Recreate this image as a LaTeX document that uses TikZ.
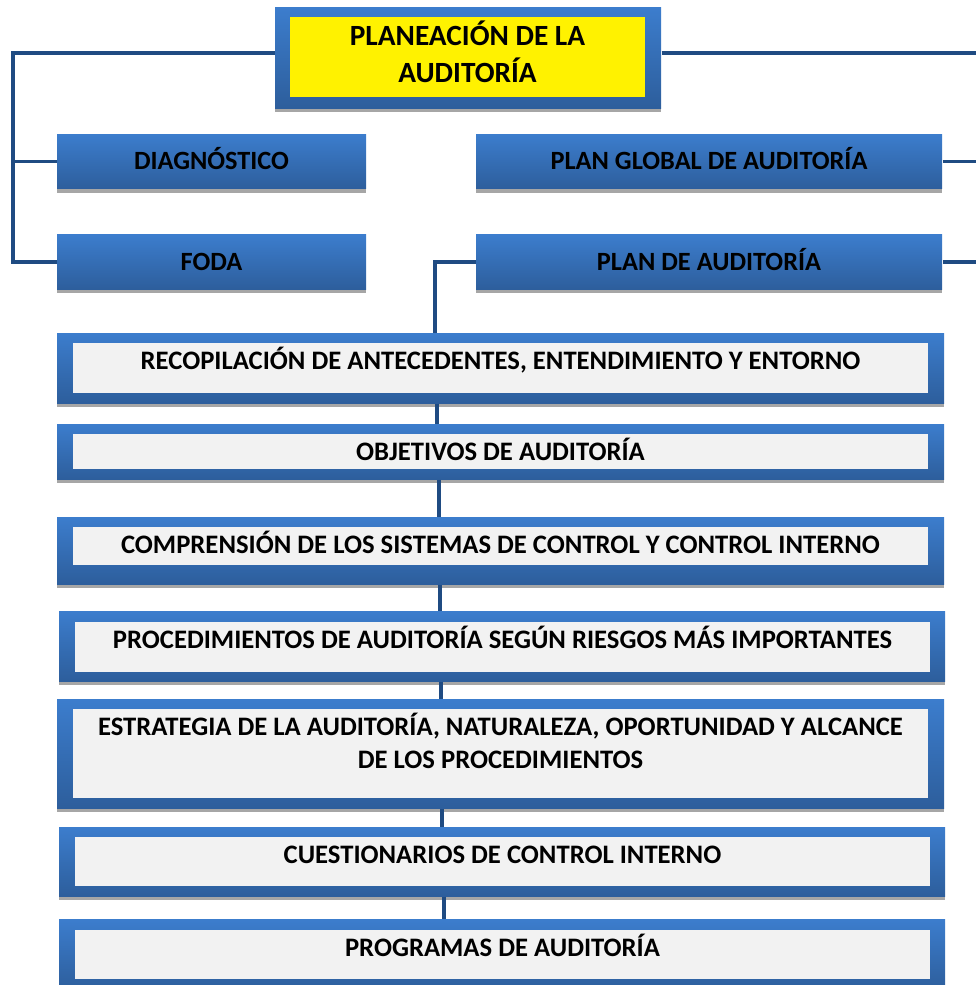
\documentclass[tikz,border=0pt]{standalone}
\usepackage{fontspec}
\setmainfont{Carlito}
\usetikzlibrary{positioning,fit,shadows}
\definecolor{azulclaro}{RGB}{60,125,205}
\definecolor{azuloscuro}{RGB}{45,94,156}
\definecolor{lineaazul}{RGB}{31,75,130}
\definecolor{grisclaro}{RGB}{242,242,242}
\definecolor{sombra}{RGB}{166,166,166}
\tikzset{every picture/.style={line width=0.75pt}}
\tikzset{
azul/.style={inner sep=0pt, draw=none, top color=azulclaro, bottom color=azuloscuro,
  drop shadow={shadow xshift=0pt, shadow yshift=-3pt, fill=sombra, opacity=1}},
amarillo/.style={inner sep=0pt, fill=yellow, align=center, text depth=7.5pt,
  minimum width=266.25pt, minimum height=60pt,
  font=\fontsize{22}{27.5}\selectfont\bfseries},
hoja/.style={inner sep=0pt, fill=grisclaro},
rotulo/.style={inner sep=0pt, align=center, text height=12.7pt, text depth=0pt,
  font=\fontsize{19.75}{25}\selectfont\bfseries},
texto/.style={inner sep=0pt, align=center, text height=12.9pt, text depth=0pt,
  font=\fontsize{20}{25}\selectfont\bfseries},
corto/.style={minimum width=231.75pt, minimum height=41pt},
largo/.style={minimum width=349.5pt, minimum height=41pt},
enlace/.style={draw=lineaazul, line width=2.6pt}}

\begin{document}
\begin{tikzpicture}[x=0.75pt,y=0.75pt,yscale=-1]
\useasboundingbox (0,0) rectangle (975,985);

% Title
\node [azul, fit={(275,7) (661,108)}] (tit) {};
\node [amarillo] (titin) at (467.5,57) {PLANEACIÓN DE LA\\AUDITORÍA};

% Blue boxes
\node [azul, rotulo, corto] (diag) at (211.5,161.5) {DIAGNÓSTICO};
\node [azul, rotulo, corto] (foda) at (211.5,262) {FODA};
\node [azul, rotulo, largo] (global) at (709,161.5) {PLAN GLOBAL DE AUDITORÍA};
\node [azul, rotulo, largo] (plan) at (709,262) {PLAN DE AUDITORÍA};

% Framed boxes
\node [azul, fit={(57,333) (944,403)}] (m1) {};
\node [hoja, fit={(73,343) (928,393)}] (r1) {};
\node [texto, below=6.75pt of r1.north] (t1) {RECOPILACIÓN DE ANTECEDENTES, ENTENDIMIENTO Y ENTORNO};

\node [azul, fit={(57,424) (944,479)}] (m2) {};
\node [hoja, fit={(73,434) (928,469)}] (r2) {};
\node [texto, below=6.75pt of r2.north] (t2) {OBJETIVOS DE AUDITORÍA};

\node [azul, fit={(57,517) (944,584)}] (m3) {};
\node [hoja, fit={(73,527) (928,565)}] (r3) {};
\node [texto, below=6.75pt of r3.north] (t3) {COMPRENSIÓN DE LOS SISTEMAS DE CONTROL Y CONTROL INTERNO};

\node [azul, fit={(59,611) (945,681)}] (m4) {};
\node [hoja, fit={(75,622) (930,672)}] (r4) {};
\node [texto, below=6.75pt of r4.north] (t4) {PROCEDIMIENTOS DE AUDITORÍA SEGÚN RIESGOS MÁS IMPORTANTES};

\node [azul, fit={(57,699) (944,808)}] (m5) {};
\node [hoja, fit={(73,709) (928,798)}] (r5) {};
\node [texto, text height=37.9pt, below=6.75pt of r5.north] (t5) {ESTRATEGIA DE LA AUDITORÍA, NATURALEZA, OPORTUNIDAD Y ALCANCE\\DE LOS PROCEDIMIENTOS};

\node [azul, fit={(59,827) (945,896)}] (m6) {};
\node [hoja, fit={(75,837) (930,886)}] (r6) {};
\node [texto, below=6.75pt of r6.north] (t6) {CUESTIONARIOS DE CONTROL INTERNO};

\node [azul, fit={(59,919) (945,990)}] (m7) {};
\node [hoja, fit={(75,930) (930,979)}] (r7) {};
\node [texto, below=6.75pt of r7.north] (t7) {PROGRAMAS DE AUDITORÍA};

% Connectors
\coordinate (izq) at (13,53);
\coordinate (der) at (995,53);
\coordinate (col) at (435,0);
\draw [enlace] (tit.west |- izq) -- (izq) |- (foda.west);
\draw [enlace] (izq |- diag.west) -- (diag.west);
\draw [enlace] (tit.east |- der) -- (der) |- (plan.east);
\draw [enlace] (der |- global.east) -- (global.east);
\draw [enlace] (plan.west) -| (col |- m1.north);
\foreach \a/\b/\x in {m1/m2/437, m2/m3/439, m3/m4/440, m4/m5/441, m5/m6/442, m6/m7/444}{
  \coordinate (c\a) at (\x,0);
  \draw [enlace] (c\a |- \a.south) -- (c\a |- \b.north);
}

\end{tikzpicture}
\end{document}
